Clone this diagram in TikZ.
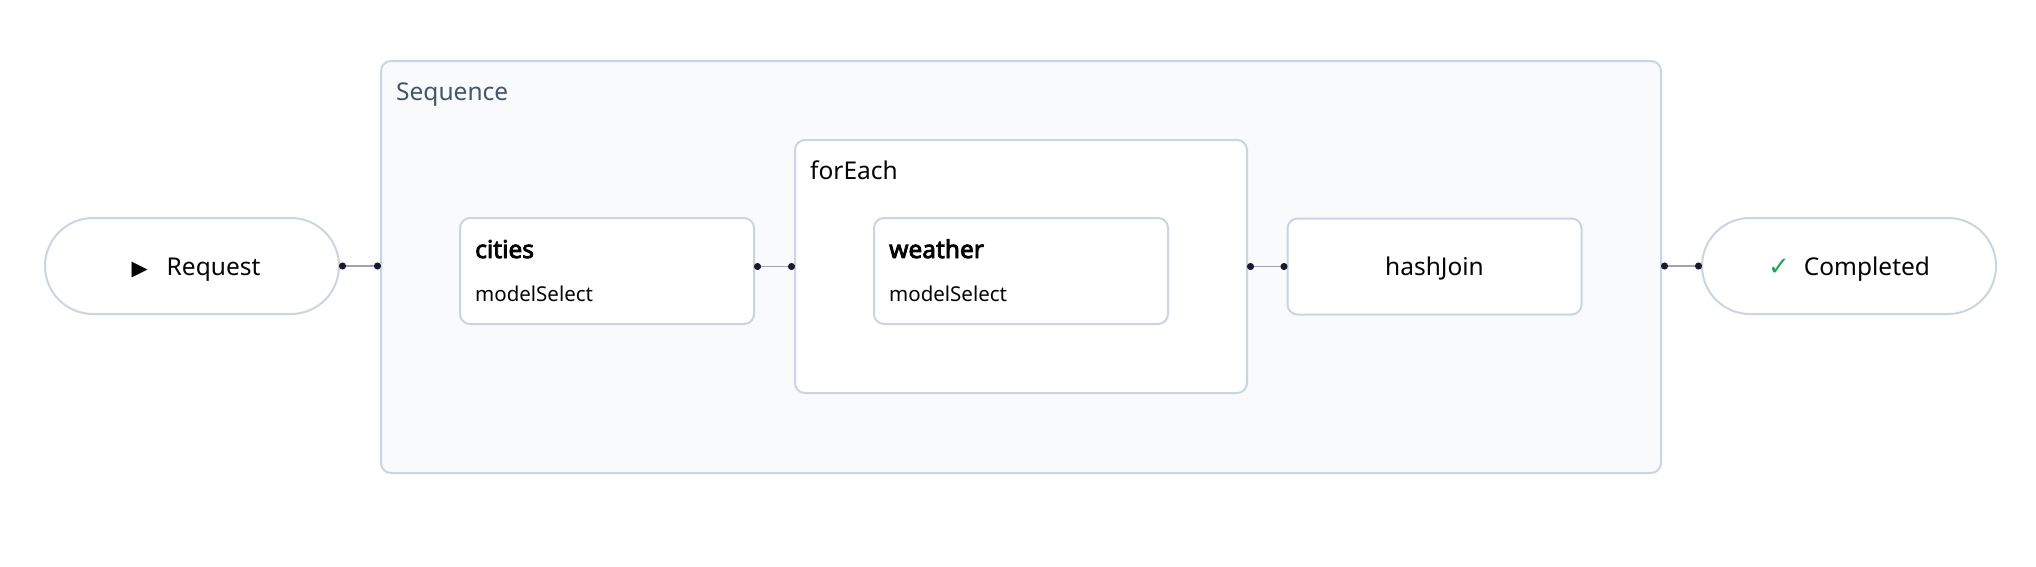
\documentclass[tikz,border=0pt]{standalone}
\usepackage{fontspec}
\setmainfont{Noto Sans}[AutoFakeBold=3.4]
\newfontfamily\symbolfont{DejaVu Sans}
\usetikzlibrary{arrows.meta}

\definecolor{edgegray}{HTML}{CBD5E1}
\definecolor{groupfill}{HTML}{F8FAFC}
\definecolor{grouptext}{HTML}{475569}
\definecolor{dotnavy}{HTML}{1A1A2E}
\definecolor{wiregray}{HTML}{A0A4AE}
\definecolor{okgreen}{HTML}{22A355}
\definecolor{inktext}{HTML}{050505}

\tikzset{
	box/.style={draw=edgegray, line width=2pt, fill=white, rounded corners=10pt, inner sep=0pt, text=inktext},
	pill/.style={box, rounded corners=48pt, minimum width=294pt, minimum height=96pt,
		font=\fontsize{24.5}{28}\selectfont, text height=18pt, text depth=0pt},
	stepbox/.style={box, minimum width=294pt, minimum height=106pt},
	groupbox/.style={box},
	grouplabel/.style={anchor=base west, inner sep=0pt, font=\fontsize{24.5}{28}\selectfont},
	title/.style={anchor=base west, inner sep=0pt, text=inktext, font=\bfseries\fontsize{24.5}{28}\selectfont},
	sub/.style={anchor=base west, inner sep=0pt, text=inktext, font=\fontsize{20.5}{24}\selectfont},
	wire/.style={draw=wiregray, line width=1.6pt, shorten <=-1pt, shorten >=-1pt,
		{Circle[length=7pt, color=dotnavy]}-{Circle[length=7pt, color=dotnavy]}},
}

\begin{document}
\begin{tikzpicture}[x=1pt, y=-1pt]
				\useasboundingbox (0,0) rectangle (2036,566);

				% Manual node positions
				\node[groupbox, fill=groupfill, minimum width=1280pt, minimum height=412pt] (seq) at (1021,267) {};
				\node[grouplabel, text=grouptext] (seqL) at ([xshift=16pt, yshift=-40pt]seq.north west) {Sequence};

				\node[pill] (req) at (192,266) {\hspace*{8pt}{\symbolfont\fontsize{21}{21}\selectfont ▶}\hspace{19pt}Request};
				\node[pill] (done) at (1849,266) {{\symbolfont\color{okgreen}\fontsize{26}{26}\selectfont ✓}\hspace{14pt}Completed};

				\node[stepbox] (cities) at (607,271) {};
				\node[title] (citiesT) at ([xshift=16pt, yshift=-41pt]cities.north west) {cities};
				\node[sub] (citiesS) at ([xshift=16pt, yshift=-84pt]cities.north west) {modelSelect};

				\node[groupbox, minimum width=452pt, minimum height=253pt] (loop) at (1021,266.5) {};
				\node[grouplabel, text=inktext] (loopL) at ([xshift=16pt, yshift=-40pt]loop.north west) {forEach};

				\node[stepbox] (weather) at (1021,271) {};
				\node[title] (weatherT) at ([xshift=16pt, yshift=-41pt]weather.north west) {weather};
				\node[sub] (weatherS) at ([xshift=16pt, yshift=-84pt]weather.north west) {modelSelect};

				\node[pill, rounded corners=10pt] (join) at (1434.5,266.5) {hashJoin};

				% Connections
				\draw[wire] (req.east) -- (req.east -| seq.west);
				\draw[wire] (cities.east |- loop.west) -- (loop.west);
				\draw[wire] (loop.east) -- (join.west);
				\draw[wire] (seq.east |- done.west) -- (done.west);

			\end{tikzpicture}
\end{document}
